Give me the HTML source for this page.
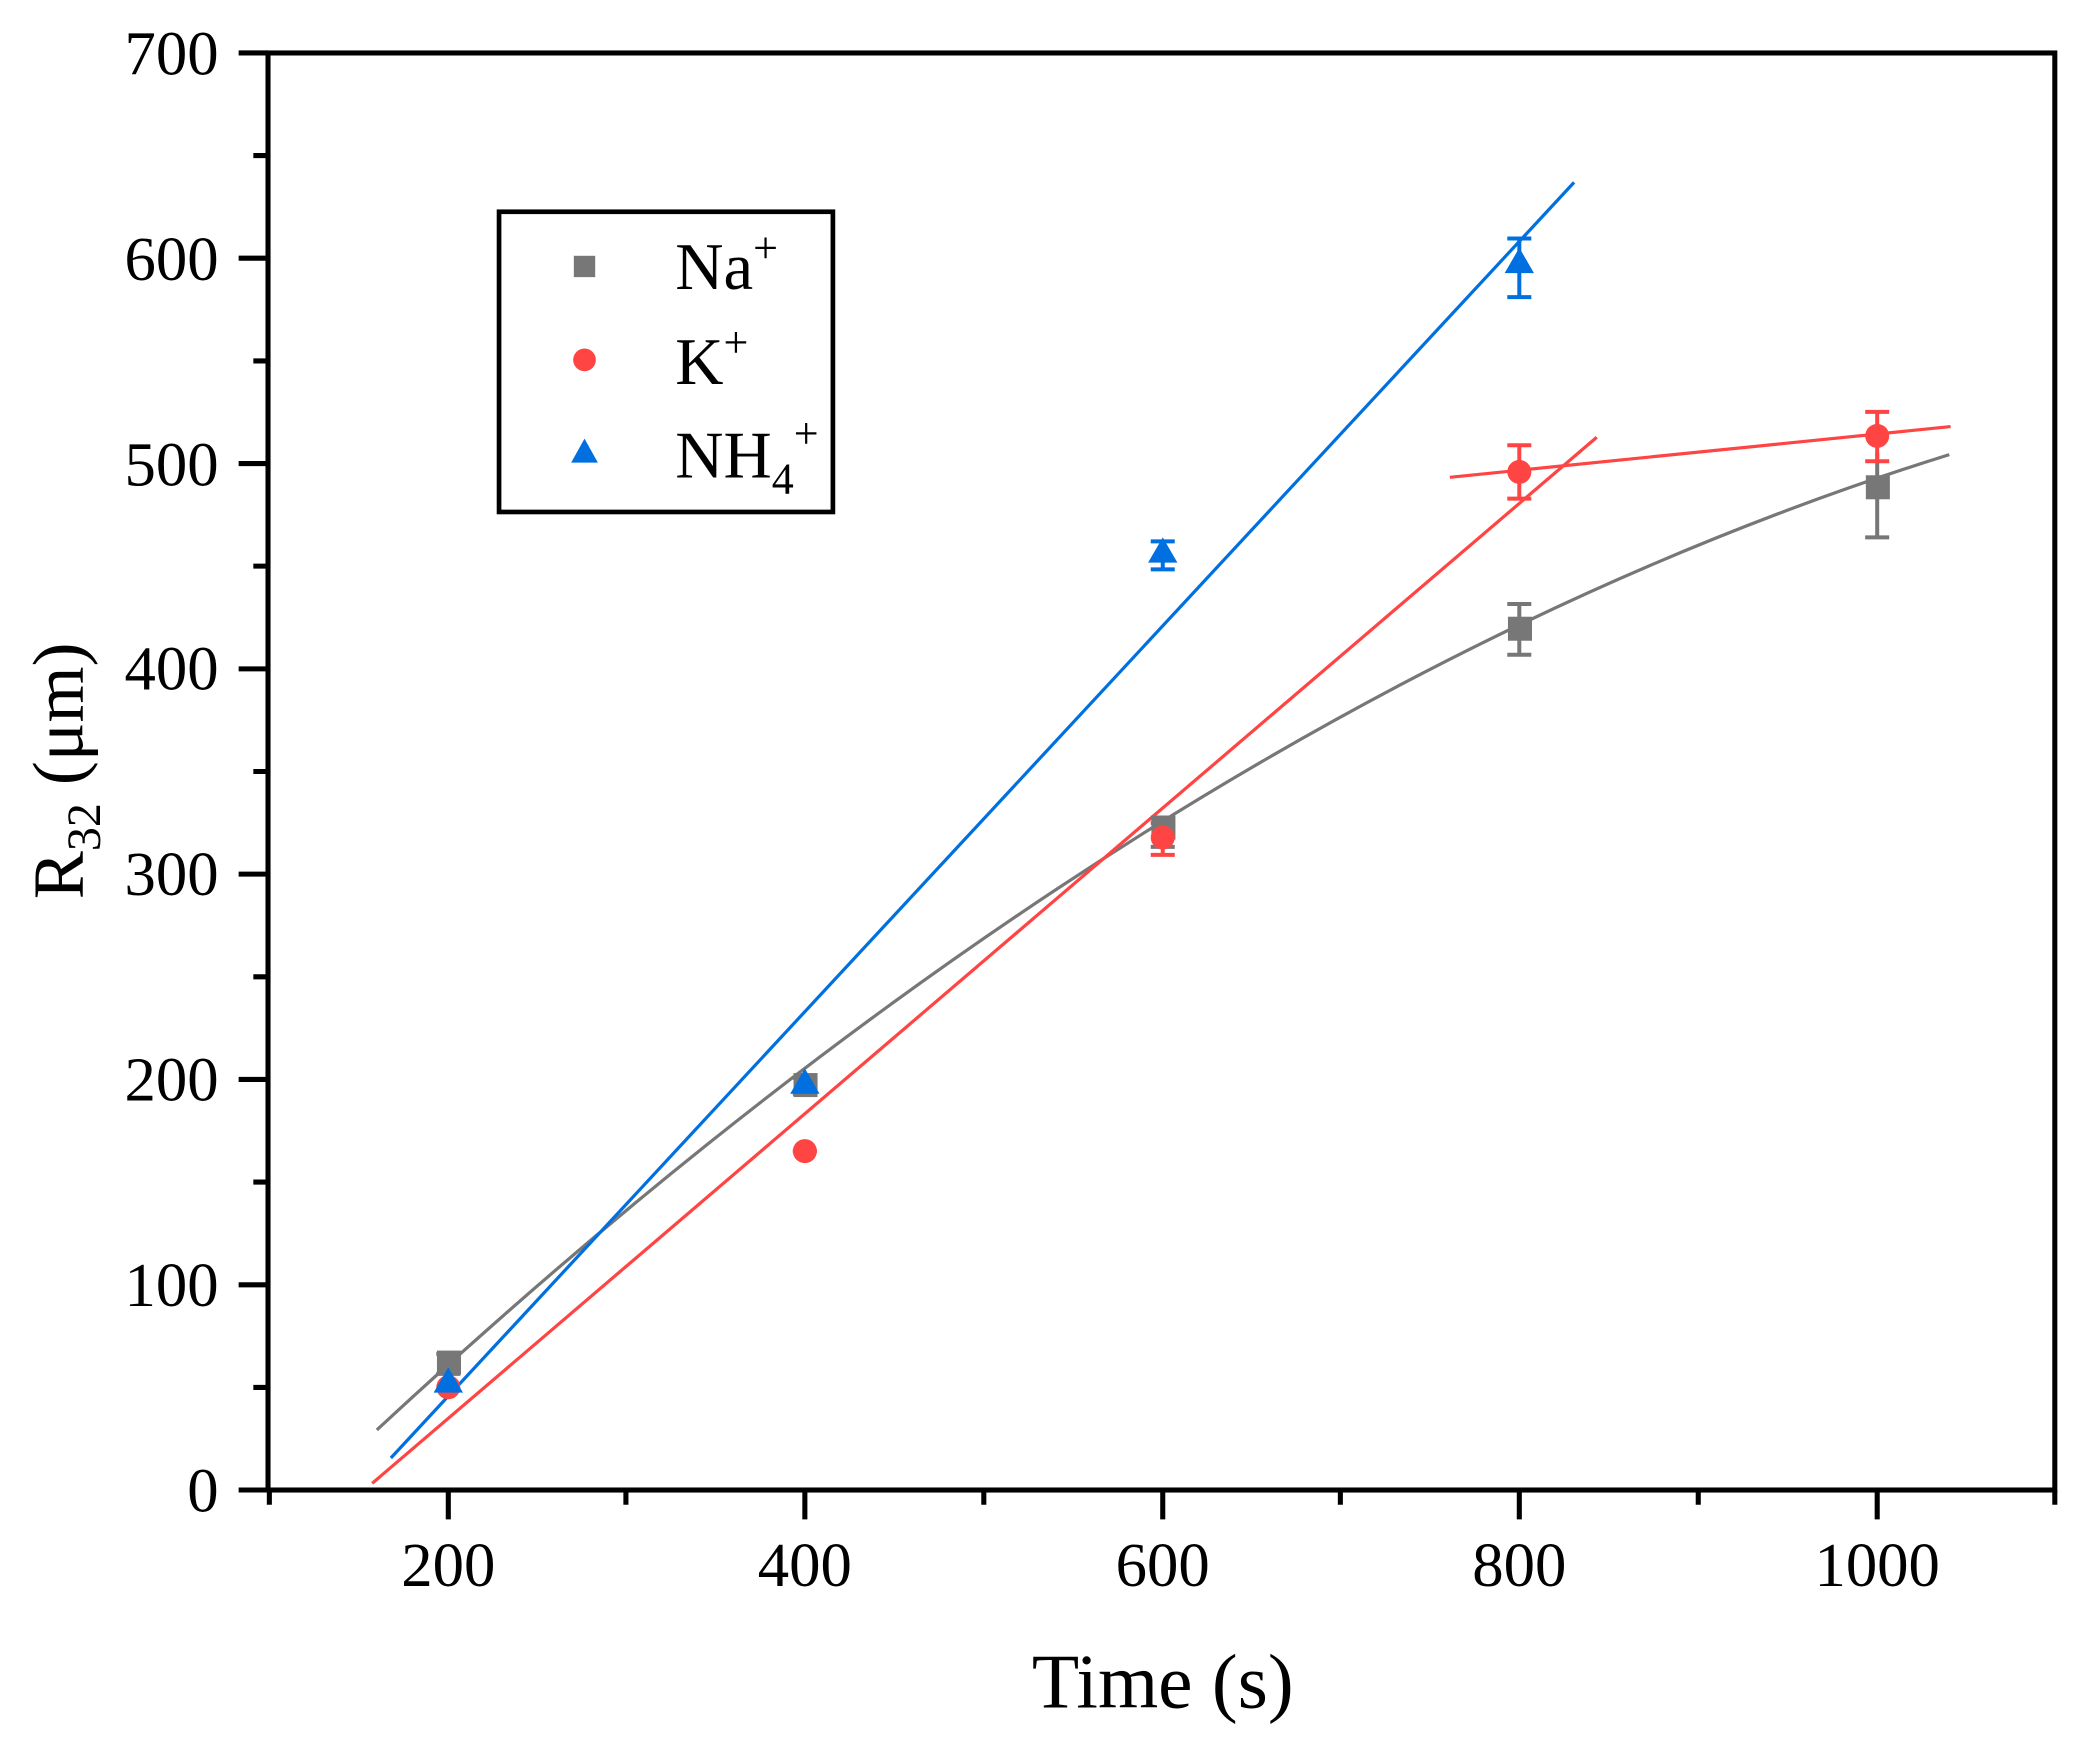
<!DOCTYPE html>
<html><head><meta charset="utf-8"><style>html,body{margin:0;padding:0;background:#fff}svg{display:block}</style></head>
<body>
<svg width="2091" height="1741" viewBox="-0.7 0.3 1565.8 1304.8" preserveAspectRatio="none" xmlns="http://www.w3.org/2000/svg" font-family="Liberation Serif, serif">
<rect x="-1" y="0" width="1568" height="1306" fill="#fff"/>
<!-- fits -->
<path fill="none" stroke="#777" stroke-width="2.4" d="M281.5 1072 Q869.6 525 1459 341"/>
<line x1="278" y1="1112" x2="1195" y2="328" stroke="#f44" stroke-width="2.4"/>
<line x1="1085" y1="358" x2="1460" y2="320" stroke="#f44" stroke-width="2.4"/>
<line x1="292" y1="1093" x2="1178" y2="137" stroke="#0070e0" stroke-width="2.4"/>
<!-- error bars -->
<g stroke-width="3" fill="none">
<g stroke="#777">
<path d="M335 1015v15M326 1015h18M326 1030h18"/>
<path d="M602 808v12M593 808h18M593 820h18"/>
<path d="M870 613v22M861 613h18M861 635h18"/>
<path d="M1137 453v38M1128 453h18M1128 491h18"/>
<path d="M1405 340v63M1396 403h18"/>
</g>
<g stroke="#f44">
<path d="M870 617v24M861 617h18M861 641h18"/>
<path d="M1137 334v40M1128 334h18M1128 374h18"/>
<path d="M1405 309v37M1396 309h18M1396 346h18"/>
<path d="M593 863h18"/>
</g>
<g stroke="#0070e0">
<path d="M870 406v21M861 406h18M861 427h18"/>
<path d="M1137 179v44M1128 179h18M1128 223h18"/>
</g>
</g>
<!-- markers -->
<g fill="#777">
<rect x="326.5" y="1012.5" width="18" height="18"/>
<rect x="593.5" y="804.5" width="18" height="18"/>
<rect x="861.5" y="611.5" width="18" height="18"/>
<rect x="1128.5" y="462.5" width="18" height="18"/>
<rect x="1396.5" y="356.5" width="18" height="18"/>
</g>
<g fill="#f44">
<circle cx="335" cy="1040" r="9"/>
<circle cx="602" cy="863" r="9"/>
<circle cx="870" cy="628" r="9"/>
<circle cx="1137" cy="354" r="9"/>
<circle cx="1405" cy="327" r="9"/>
</g>
<g fill="#0070e0">
<path d="M335 1025l11 19h-22z"/>
<path d="M602 801l11 19h-22z"/>
<path d="M870 403l11 19h-22z"/>
<path d="M1137 186l11 19h-22z"/>
</g>
<!-- axes -->
<rect x="200" y="40" width="1338" height="1077" fill="none" stroke="#000" stroke-width="3.8"/>
<g stroke="#000" stroke-width="3.8">
<path d="M178 1117h22M178 963.2h22M178 809.3h22M178 655.4h22M178 501.6h22M178 347.7h22M178 193.8h22M178 40h22"/>
<path d="M189 1040.1h11M189 886.2h11M189 732.4h11M189 578.5h11M189 424.6h11M189 270.8h11M189 116.9h11"/>
<path d="M335 1117v22M602 1117v22M870 1117v22M1137 1117v22M1405 1117v22"/>
<path d="M201 1117v11M468 1117v11M736 1117v11M1003 1117v11M1271 1117v11M1538 1117v11"/>
</g>
<g font-size="47" text-anchor="end" fill="#000">
<text x="163" y="1133">0</text><text x="163" y="979">100</text><text x="163" y="825">200</text><text x="163" y="671">300</text><text x="163" y="517">400</text><text x="163" y="364">500</text><text x="163" y="210">600</text><text x="163" y="56">700</text>
</g>
<g font-size="47" text-anchor="middle" fill="#000">
<text x="335" y="1189">200</text><text x="602" y="1189">400</text><text x="870" y="1189">600</text><text x="1137" y="1189">800</text><text x="1405" y="1189">1000</text>
</g>
<text x="870" y="1280" font-size="58" text-anchor="middle">Time (s)</text>
<text transform="translate(61,578) rotate(-90)" font-size="54" text-anchor="middle">R<tspan font-size="36" dy="13">32</tspan><tspan dy="-13"> (μm)</tspan></text>
<!-- legend -->
<rect x="373" y="159" width="250" height="225" fill="#fff" stroke="#000" stroke-width="3.5"/>
<rect x="429" y="192" width="16" height="16" fill="#777"/>
<circle cx="437" cy="270" r="8.5" fill="#f44"/>
<path d="M437 329l10 18h-20z" fill="#0070e0"/>
<g font-size="50" fill="#000">
<text x="505" y="217">Na<tspan font-size="33" dy="-20">+</tspan></text>
<text x="505" y="288">K<tspan font-size="33" dy="-20">+</tspan></text>
<text x="505" y="358">NH<tspan font-size="33" dy="12">4</tspan><tspan font-size="33" dy="-34">+</tspan></text>
</g>
</svg>
</body></html>
